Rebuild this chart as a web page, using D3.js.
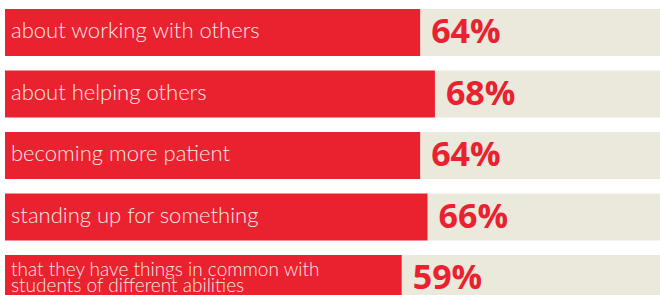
<!DOCTYPE html>
<html>
<head>
<meta charset="utf-8">
<script src="https://cdn.jsdelivr.net/npm/d3@7"></script>
<style>
  html, body { margin: 0; padding: 0; background: #fff; }
  svg { display: block; }
</style>
</head>
<body>
<div id="chart"></div>
<script>
// chart data
const categories = [
    'about working with others',
    'about helping others',
    'becoming more patient',
    'standing up for something',
    'that they have things in common with students of different abilities'
];
const labelLines = [
    ['about working with others'],
    ['about helping others'],
    ['becoming more patient'],
    ['standing up for something'],
    ['that they have things in common with', 'students of different abilities']
];
const values = [64, 68, 64, 66, 59];

const width = 660, height = 295;
const RED = '#ea212e';
const BEIGE = '#ebe8dc';

const svg = d3.select('#chart').append('svg')
    .attr('width', width)
    .attr('height', height);

const y = d3.scaleBand()
    .domain(categories)
    .range([9, 302])
    .paddingInner(0.236)
    .paddingOuter(0);

// bars are not zero based in the original, fitted scale
const x = d3.scaleLinear()
    .domain([0, 100])
    .range([184, 553]);

const barLeft = 5;

const rows = svg.selectAll('.row')
    .data(categories)
    .enter()
    .append('g')
    .attr('class', 'row')
    .attr('transform', d => `translate(0, ${y(d)})`);

// beige remainder
rows.append('rect')
    .attr('x', (d, i) => x(values[i]))
    .attr('y', 0)
    .attr('width', (d, i) => width - x(values[i]))
    .attr('height', y.bandwidth())
    .attr('fill', BEIGE);

// red value bar
rows.append('rect')
    .attr('x', barLeft)
    .attr('y', 0)
    .attr('width', (d, i) => x(values[i]) - barLeft)
    .attr('height', y.bandwidth())
    .attr('fill', RED);

// category labels inside red bar
rows.each(function (d, i) {
    const lines = labelLines[i];
    const g = d3.select(this);
    const single = lines.length === 1;
    const text = g.append('text')
        .attr('x', 11)
        .attr('fill', '#fde8e9')
        .attr('font-family', 'Lato, "Open Sans", sans-serif')
        .attr('font-weight', 300)
        .attr('font-size', single ? '22px' : '19px');
    lines.forEach((line, j) => {
        text.append('tspan')
            .attr('x', 11)
            .attr('y', single ? 29 : 21 + j * 16)
            .text(line);
    });
});

// percent labels
rows.append('text')
    .attr('x', (d, i) => x(values[i]) + 11)
    .attr('y', 34)
    .attr('fill', RED)
    .attr('font-family', '"Open Sans", sans-serif')
    .attr('font-weight', 700)
    .attr('font-size', '34px')
    .text((d, i) => values[i] + '%');
</script>
</body>
</html>
